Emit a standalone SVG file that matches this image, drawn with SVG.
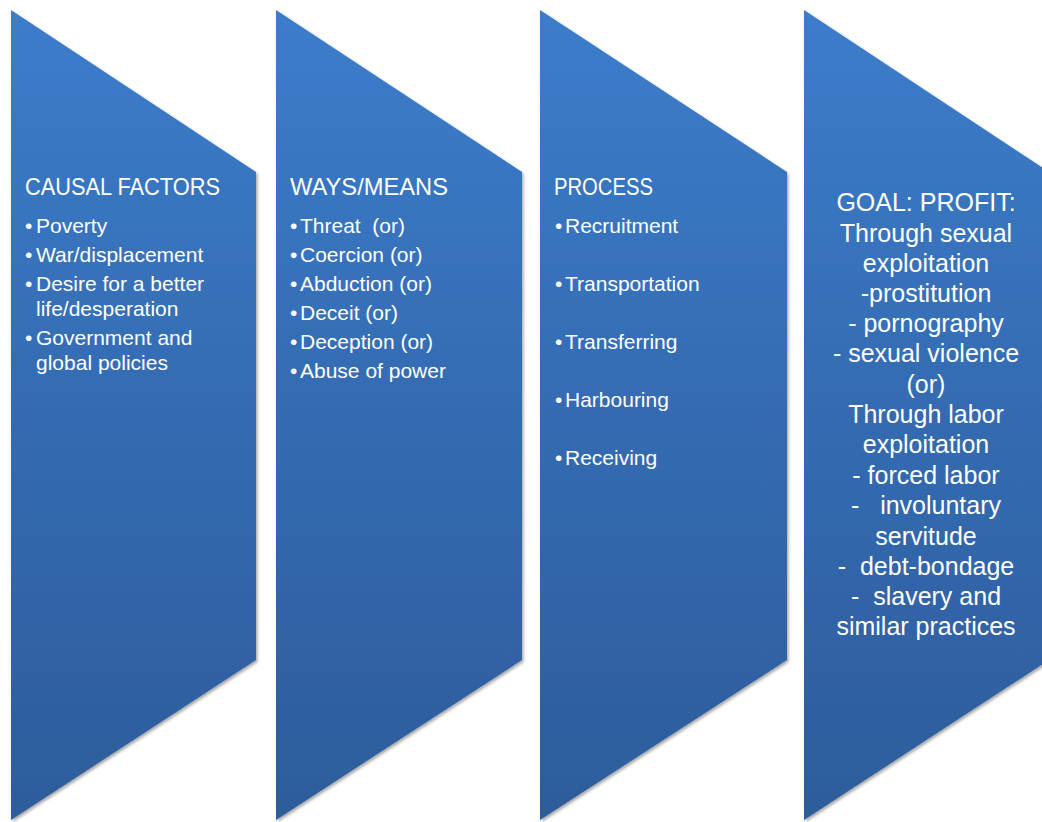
<svg xmlns="http://www.w3.org/2000/svg" width="1042" height="822" viewBox="0 0 1042 822">
  <defs>
    <linearGradient id="fill" gradientUnits="userSpaceOnUse" x1="0" y1="10" x2="0" y2="820">
      <stop offset="0" stop-color="#3c7dcb"/>
      <stop offset="0.5" stop-color="#346bb2"/>
      <stop offset="1" stop-color="#2d5c9b"/>
    </linearGradient>
    <filter id="shadow" x="-10%" y="-5%" width="120%" height="110%">
      <feDropShadow dx="1.5" dy="2" stdDeviation="1.8" flood-color="#000" flood-opacity="0.35"/>
    </filter>
  </defs>
  <style>
    .shape { fill: url(#fill); filter: url(#shadow); }
    text { font-family: "Liberation Sans", Arial, sans-serif; fill: #ffffff; }
    .title { font-size: 24px; }
    .item { font-size: 21px; }
    .goal { font-size: 25px; text-anchor: middle; white-space: pre; }
  </style>
  <rect width="1042" height="822" fill="#ffffff"/>

  <g id="connectors"/>

  <!-- Step 1: causal factors -->
  <g id="causal-factors">
    <polygon class="shape" points="11,10 256,172 256,660 11,820"/>
    <text class="title" x="25" y="195" textLength="195" lengthAdjust="spacingAndGlyphs">CAUSAL FACTORS</text>
    <text class="item"><tspan x="25" y="233">•</tspan><tspan x="36" y="233">Poverty</tspan></text>
    <text class="item"><tspan x="25" y="262">•</tspan><tspan x="36" y="262">War/displacement</tspan></text>
    <text class="item"><tspan x="25" y="291">•</tspan><tspan x="36" y="291">Desire for a better</tspan><tspan x="36" y="316">life/desperation</tspan></text>
    <text class="item"><tspan x="25" y="345">•</tspan><tspan x="36" y="345">Government and</tspan><tspan x="36" y="370">global policies</tspan></text>
  </g>

  <!-- Step 2: ways / means -->
  <g id="ways-means">
    <polygon class="shape" points="276,10 522,172 522,660 276,820"/>
    <text class="title" x="290" y="195" textLength="158" lengthAdjust="spacingAndGlyphs">WAYS/MEANS</text>
    <text class="item" xml:space="preserve"><tspan x="290" y="233">•</tspan><tspan x="300" y="233">Threat  (or)</tspan></text>
    <text class="item"><tspan x="290" y="262">•</tspan><tspan x="300" y="262">Coercion (or)</tspan></text>
    <text class="item"><tspan x="290" y="291">•</tspan><tspan x="300" y="291">Abduction (or)</tspan></text>
    <text class="item"><tspan x="290" y="320">•</tspan><tspan x="300" y="320">Deceit (or)</tspan></text>
    <text class="item"><tspan x="290" y="349">•</tspan><tspan x="300" y="349">Deception (or)</tspan></text>
    <text class="item"><tspan x="290" y="378">•</tspan><tspan x="300" y="378">Abuse of power</tspan></text>
  </g>

  <!-- Step 3: process -->
  <g id="process">
    <polygon class="shape" points="540,10 787,172 787,660 540,820"/>
    <text class="title" x="554" y="195" textLength="99" lengthAdjust="spacingAndGlyphs">PROCESS</text>
    <text class="item"><tspan x="555" y="233">•</tspan><tspan x="565" y="233">Recruitment</tspan></text>
    <text class="item"><tspan x="555" y="291">•</tspan><tspan x="565" y="291">Transportation</tspan></text>
    <text class="item"><tspan x="555" y="349">•</tspan><tspan x="565" y="349">Transferring</tspan></text>
    <text class="item"><tspan x="555" y="407">•</tspan><tspan x="565" y="407">Harbouring</tspan></text>
    <text class="item"><tspan x="555" y="465">•</tspan><tspan x="565" y="465">Receiving</tspan></text>
  </g>

  <!-- Step 4: goal (each line is its own centred chunk; no whitespace between tspans) -->
  <g id="goal">
    <polygon class="shape" points="804,10 1049,172 1049,660 804,820"/>
    <text class="goal" xml:space="preserve"><tspan x="926" y="211">GOAL: PROFIT:</tspan><tspan x="926" y="242">Through sexual</tspan><tspan x="926" y="272">exploitation</tspan><tspan x="926" y="302">-prostitution</tspan><tspan x="926" y="332">- pornography</tspan><tspan x="926" y="362">- sexual violence</tspan><tspan x="926" y="393">(or)</tspan><tspan x="926" y="423">Through labor</tspan><tspan x="926" y="453">exploitation</tspan><tspan x="926" y="484">- forced labor</tspan><tspan x="926" y="514">-   involuntary</tspan><tspan x="926" y="545">servitude</tspan><tspan x="926" y="575">-  debt-bondage</tspan><tspan x="926" y="605">-  slavery and</tspan><tspan x="926" y="635">similar practices</tspan></text>
  </g>
</svg>
